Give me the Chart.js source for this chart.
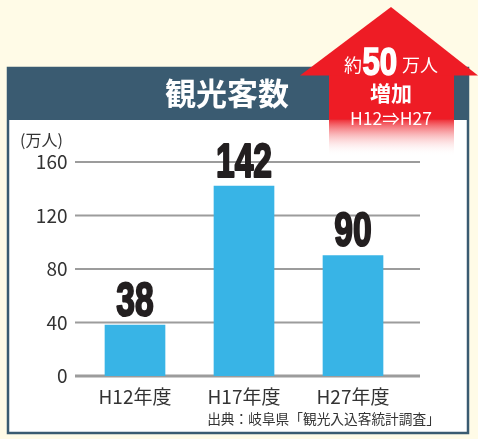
<!DOCTYPE html>
<html><head><meta charset="utf-8">
<style>html,body{margin:0;padding:0;background:#fffbe7;}canvas{display:block}</style>
<script src="https://cdn.jsdelivr.net/npm/chart.js@4"></script>
</head><body>
<canvas id="c" width="478" height="439" style="width:478px;height:439px"></canvas>
<script>
const categories = ['H12年度', 'H17年度', 'H27年度'];
const visitors = [38, 142, 90];
const yTicks = [0, 40, 80, 120, 160];
const titleText = '観光客数';
const unitText = '(万人)';
const sourceText = '出典：岐阜県「観光入込客統計調査」';
const arrowTexts = { pre: '約', num: '50', post: '万人', line2: '増加', line3: 'H12⇒H27' };

const JP = '"Noto Sans CJK JP", "Noto Sans", sans-serif';
const HEAVY = '"Liberation Sans", Arial, sans-serif';

function condensedText(ctx, txt, x, y, sx, stroke) {
  ctx.save();
  ctx.translate(x, y);
  ctx.scale(sx, 1);
  ctx.fillText(txt, 0, 0);
  if (stroke) ctx.strokeText(txt, 0, 0);
  ctx.restore();
}

const decor = {
  id: 'decor',
  beforeDraw(chart) {
    const ctx = chart.ctx;
    ctx.save();
    ctx.fillStyle = '#fffbe7';
    ctx.fillRect(0, 0, chart.width, chart.height);
    ctx.fillStyle = '#ffffff';
    ctx.fillRect(7, 67, 462, 367);
    ctx.fillStyle = '#3a5b71';
    ctx.fillRect(7, 67, 462, 53);
    ctx.strokeStyle = '#3a5b71';
    ctx.lineWidth = 2.5;
    ctx.strokeRect(8, 68, 460, 365);
    ctx.fillStyle = '#ffffff';
    ctx.font = 'bold 31px ' + JP;
    ctx.textAlign = 'center';
    ctx.textBaseline = 'alphabetic';
    ctx.fillText(titleText, 227, 105);
    ctx.fillStyle = '#333333';
    ctx.font = '16px ' + JP;
    ctx.textAlign = 'left';
    ctx.fillText(unitText, 20, 146);
    ctx.font = '13.7px ' + JP;
    ctx.textAlign = 'center';
    ctx.fillText(sourceText, 323.5, 424);
    ctx.restore();
  },
  beforeDatasetsDraw(chart) {
    const ctx = chart.ctx;
    const y = chart.scales.y;
    ctx.save();
    y.ticks.forEach(t => {
      const py = y.getPixelForValue(t.value);
      ctx.strokeStyle = '#9c9c9c';
      ctx.lineWidth = t.value === 0 ? 3 : 2;
      ctx.beginPath();
      ctx.moveTo(75, py);
      ctx.lineTo(420, py);
      ctx.stroke();
    });
    ctx.restore();
  },
  afterDatasetsDraw(chart) {
    const ctx = chart.ctx;
    const meta = chart.getDatasetMeta(0);
    ctx.save();
    ctx.fillStyle = '#231f20';
    ctx.strokeStyle = '#231f20';
    ctx.lineWidth = 2.2;
    ctx.lineJoin = 'round';
    ctx.font = 'bold 48px ' + HEAVY;
    ctx.textAlign = 'center';
    ctx.textBaseline = 'alphabetic';
    meta.data.forEach((bar, i) => {
      condensedText(ctx, String(visitors[i]), bar.x, bar.y - 9.5, 0.7, true);
    });
    ctx.restore();
  },
  afterDraw(chart) {
    const ctx = chart.ctx;
    ctx.save();
    const g = ctx.createLinearGradient(0, 118, 0, 156);
    g.addColorStop(0, '#ee1c25');
    g.addColorStop(1, 'rgba(255,255,255,0)');
    ctx.fillStyle = g;
    ctx.fillRect(329, 74, 125, 82);
    ctx.fillStyle = '#ee1c25';
    ctx.fillRect(329, 74, 125, 45);
    ctx.beginPath();
    ctx.moveTo(391, 7);
    ctx.lineTo(478, 75.5);
    ctx.lineTo(300, 75.5);
    ctx.closePath();
    ctx.fill();
    ctx.fillStyle = '#ffffff';
    ctx.strokeStyle = '#ffffff';
    ctx.textBaseline = 'alphabetic';
    ctx.textAlign = 'left';
    ctx.font = '18px ' + JP;
    ctx.fillText(arrowTexts.pre, 344, 72);
    ctx.font = 'bold 39px ' + HEAVY;
    ctx.lineWidth = 1.6;
    condensedText(ctx, arrowTexts.num, 362.5, 74.5, 0.8, true);
    ctx.font = '18px ' + JP;
    ctx.fillText(arrowTexts.post, 402, 72);
    ctx.textAlign = 'center';
    ctx.font = 'bold 21px ' + JP;
    ctx.fillText(arrowTexts.line2, 391, 101);
    ctx.font = '17.5px ' + JP;
    ctx.fillText(arrowTexts.line3, 391, 125);
    ctx.restore();
  }
};

new Chart(document.getElementById('c'), {
  type: 'bar',
  data: {
    labels: categories,
    datasets: [{
      data: visitors,
      backgroundColor: '#38b4e6',
      borderWidth: 0,
      barThickness: 60
    }]
  },
  options: {
    responsive: false,
    animation: false,
    devicePixelRatio: 1,
    layout: { padding: { top: 162, left: 0, right: 70.5, bottom: 0 } },
    plugins: { legend: { display: false }, tooltip: { enabled: false }, title: { display: false } },
    scales: {
      x: {
        offset: true,
        grid: { display: false, drawTicks: false },
        border: { display: false },
        ticks: { color: '#333333', font: { family: JP, size: 19 }, padding: 9, maxRotation: 0 },
        afterFit(s) { s.height = 63; }
      },
      y: {
        min: 0, max: 160,
        grid: { display: false, drawTicks: false },
        border: { display: false },
        ticks: { color: '#333333', font: { family: JP, size: 19 }, padding: 13 },
        afterBuildTicks(s) { s.ticks = yTicks.map(v => ({ value: v })); },
        afterFit(s) { s.width = 80.5; }
      }
    }
  },
  plugins: [decor]
});
</script>
</body></html>
